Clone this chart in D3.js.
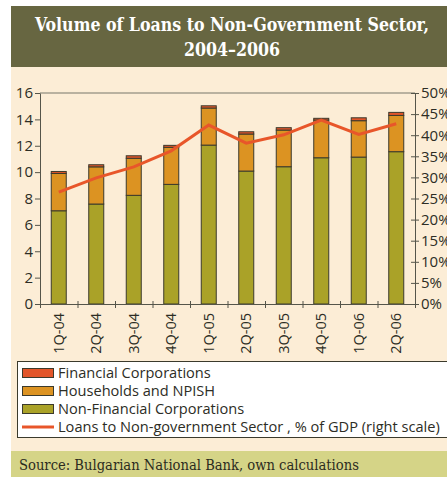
<!DOCTYPE html>
<html>
<head>
<meta charset="utf-8">
<script src="https://cdn.jsdelivr.net/npm/d3@7"></script>
<style>
  body { margin: 0; background: #fff; }
  svg { display: block; }
</style>
</head>
<body>
<div id="chart"></div>
<script>
var quarters = ["1Q-04", "2Q-04", "3Q-04", "4Q-04", "1Q-05", "2Q-05", "3Q-05", "4Q-05", "1Q-06", "2Q-06"];
var nonFinancial = [7.07, 7.58, 8.24, 9.07, 12.05, 10.08, 10.41, 11.09, 11.14, 11.55];
var households = [2.83, 2.82, 2.81, 2.81, 2.81, 2.81, 2.78, 2.86, 2.76, 2.75];
var financial = [0.15, 0.16, 0.19, 0.15, 0.17, 0.17, 0.18, 0.13, 0.22, 0.23];
var gdpShare = [26.5, 29.9, 32.5, 36.3, 42.4, 38.1, 40.1, 43.6, 40.2, 42.7];

var seriesNames = ["Financial Corporations", "Households and NPISH", "Non-Financial Corporations"];
var lineName = "Loans to Non-government Sector , % of GDP (right scale)";
var colors = {
  nfc: "#aaa228",
  hh: "#dc9322",
  fin: "#e2552a",
  line: "#e8562a"
};

function drawChart() {
  var W = 447, H = 477;
  var svg = d3.select("#chart").append("svg")
    .attr("width", W)
    .attr("height", H);

  // panel backgrounds
  svg.append("rect").attr("x", 11).attr("y", 6).attr("width", W - 11).attr("height", 61).attr("fill", "#676641");
  svg.append("rect").attr("x", 11).attr("y", 67).attr("width", W - 11).attr("height", 384).attr("fill", "#fcedd6");
  svg.append("rect").attr("x", 11).attr("y", 451).attr("width", W - 11).attr("height", 26).attr("fill", "#d5d487");

  var serif = "'DejaVu Serif Condensed', 'DejaVu Serif', serif";
  svg.append("text")
    .attr("x", 232).attr("y", 31)
    .attr("text-anchor", "middle")
    .attr("fill", "#fff")
    .style("font-family", serif)
    .style("font-weight", "bold")
    .style("font-size", "17.6px")
    .text("Volume of Loans to Non-Government Sector,");
  svg.append("text")
    .attr("x", 232).attr("y", 56)
    .attr("text-anchor", "middle")
    .attr("fill", "#fff")
    .style("font-family", serif)
    .style("font-weight", "bold")
    .style("font-size", "17.6px")
    .text("2004\u20132006");

  svg.append("text")
    .attr("x", 19).attr("y", 470)
    .attr("fill", "#2b2b1e")
    .style("font-family", serif)
    .style("font-size", "14.6px")
    .text("Source: Bulgarian National Bank, own calculations");

  var mLeft = 40, mRight = 415, mTop = 93, mBottom = 304;
  var font = "'Open Sans', sans-serif";

  var x = d3.scaleBand().domain(quarters).range([mLeft, mRight]).paddingInner(0.6).paddingOuter(0.3);
  var xb = d3.scaleLinear().domain([0, quarters.length]).range([mLeft, mRight]);
  var y = d3.scaleLinear().domain([0, 16]).range([mBottom, mTop]);
  var y2 = d3.scaleLinear().domain([0, 50]).range([mBottom, mTop]);

  // top frame line
  svg.append("line")
    .attr("x1", mLeft).attr("x2", mRight)
    .attr("y1", y(16)).attr("y2", y(16))
    .attr("stroke", "#77776a").attr("stroke-width", 1);

  // bars
  var stacks = quarters.map(function (q, i) {
    var a = nonFinancial[i], b = a + households[i], c = b + financial[i];
    return [
      { q: q, y0: 0, y1: a, color: colors.nfc },
      { q: q, y0: a, y1: b, color: colors.hh },
      { q: q, y0: b, y1: c, color: colors.fin }
    ];
  });

  svg.append("g").selectAll("g")
    .data(stacks)
    .enter().append("g")
    .selectAll("rect")
    .data(function (d) { return d; })
    .enter().append("rect")
    .attr("x", function (d) { return x(d.q); })
    .attr("width", x.bandwidth())
    .attr("y", function (d) { return y(d.y1); })
    .attr("height", function (d) { return y(d.y0) - y(d.y1); })
    .attr("fill", function (d) { return d.color; })
    .attr("stroke", "#3b3a2c")
    .attr("stroke-width", 1);

  // line
  var line = d3.line()
    .x(function (d, i) { return x(quarters[i]) + x.bandwidth() / 2; })
    .y(function (d) { return y2(d); });

  svg.append("path")
    .datum(gdpShare)
    .attr("d", line)
    .attr("fill", "none")
    .attr("stroke", colors.line)
    .attr("stroke-width", 3)
    .attr("stroke-linejoin", "miter");

  // axes
  function styleAxis(g) {
    g.select(".domain").attr("stroke", "#55554a");
    g.selectAll(".tick line").attr("stroke", "#55554a");
    g.selectAll(".tick text")
      .attr("fill", "#2d2d25")
      .style("font-family", font)
      .style("font-size", "15px");
  }

  svg.append("g")
    .attr("transform", "translate(" + mLeft + ",0)")
    .call(d3.axisLeft(y).tickValues(d3.range(0, 17, 2)).tickSize(5).tickPadding(2).tickSizeOuter(0))
    .call(styleAxis);

  svg.append("g")
    .attr("transform", "translate(" + mRight + ",0)")
    .call(d3.axisRight(y2).tickValues(d3.range(0, 51, 5)).tickSize(4).tickPadding(2).tickSizeOuter(0)
      .tickFormat(function (d) { return d + "%"; }))
    .call(styleAxis)
    .call(function (g) { g.selectAll(".tick line").attr("x1", -4); });

  svg.append("g")
    .attr("transform", "translate(0," + mBottom + ")")
    .call(d3.axisBottom(xb).tickValues(d3.range(0, quarters.length + 1)).tickSize(4).tickFormat(""))
    .call(styleAxis)
    .call(function (g) { g.selectAll(".tick line").attr("y1", -3); });

  svg.append("g")
    .attr("transform", "translate(0," + mBottom + ")")
    .call(d3.axisBottom(x).tickSize(0).tickPadding(0))
    .call(styleAxis)
    .call(function (g) {
      g.select(".domain").remove();
      g.selectAll(".tick text")
        .attr("transform", "rotate(-90)")
        .attr("x", -9)
        .attr("y", 0)
        .attr("dy", "0.35em")
        .attr("text-anchor", "end")
        .style("font-size", "14.5px");
    });

  // legend
  var lg = svg.append("g");
  lg.append("rect")
    .attr("x", 17.5).attr("y", 361.5)
    .attr("width", W).attr("height", 76)
    .attr("fill", "#fff")
    .attr("stroke", "#3b3a2c");

  var legendItems = [
    { name: seriesNames[0], color: colors.fin, type: "box" },
    { name: seriesNames[1], color: colors.hh, type: "box" },
    { name: seriesNames[2], color: colors.nfc, type: "box" },
    { name: lineName, color: colors.line, type: "line" }
  ];

  var li = lg.selectAll("g.item")
    .data(legendItems)
    .enter().append("g")
    .attr("class", "item")
    .attr("transform", function (d, i) { return "translate(0," + (373 + i * 18) + ")"; });

  li.filter(function (d) { return d.type === "box"; })
    .append("rect")
    .attr("x", 22.5).attr("y", -4.5)
    .attr("width", 31).attr("height", 9)
    .attr("fill", function (d) { return d.color; })
    .attr("stroke", "#3b3a2c");

  li.filter(function (d) { return d.type === "line"; })
    .append("line")
    .attr("x1", 22).attr("x2", 54)
    .attr("y1", 0).attr("y2", 0)
    .attr("stroke", function (d) { return d.color; })
    .attr("stroke-width", 3);

  li.append("text")
    .attr("x", 58).attr("y", 0)
    .attr("dy", "0.35em")
    .attr("fill", "#2d2d25")
    .style("font-family", font)
    .style("font-size", "14.6px")
    .text(function (d) { return d.name; });
}

drawChart();
</script>
</body>
</html>
